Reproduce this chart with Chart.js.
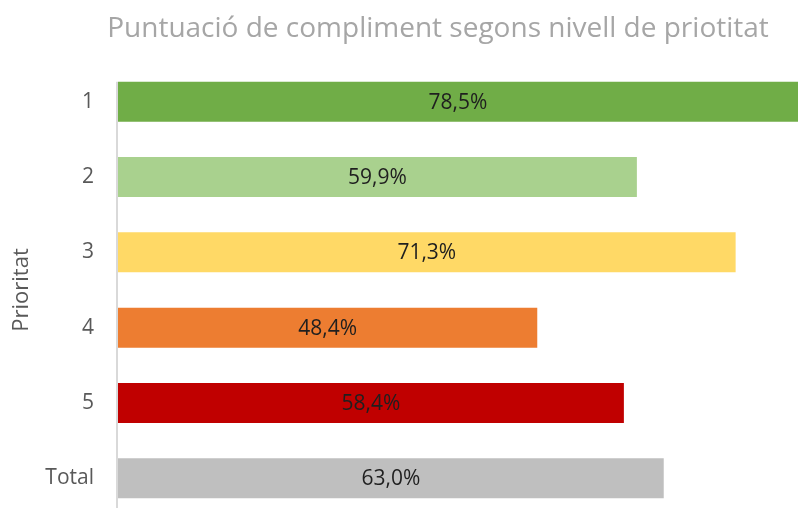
<!DOCTYPE html>
<html>
<head>
<meta charset="utf-8">
<script src="https://cdn.jsdelivr.net/npm/chart.js@4.4.1/dist/chart.umd.min.js"></script>
<style>
  html, body { margin: 0; padding: 0; background: #fff; overflow: hidden; }
  #wrap { width: 798px; height: 516px; position: relative; }
</style>
</head>
<body>
<div id="wrap"><canvas id="c"></canvas></div>
<script>
const categories = ["1", "2", "3", "4", "5", "Total"];
const scores = [78.5, 59.9, 71.3, 48.4, 58.4, 63.0];
const barColors = ["#70AD47", "#A9D18E", "#FFD966", "#ED7D31", "#C00000", "#BFBFBF"];
const chartTitle = "Puntuació de compliment segons nivell de priotitat";
const axisTitle = "Prioritat";

const FONT = "'Open Sans', 'Liberation Sans', sans-serif";

const labelPlugin = {
  id: 'barLabels',
  afterDatasetsDraw(chart) {
    const ctx = chart.ctx;
    const meta = chart.getDatasetMeta(0);
    ctx.save();
    ctx.font = "21px " + FONT;
    ctx.fillStyle = "#1F1F1F";
    ctx.textAlign = "center";
    ctx.textBaseline = "middle";
    meta.data.forEach((bar, i) => {
      const v = chart.data.datasets[0].data[i];
      const txt = v.toFixed(1).replace('.', ',') + '%';
      const x = (bar.base + bar.x) / 2;
      ctx.fillText(txt, x, bar.y + 1);
    });
    ctx.restore();
  }
};

const axisLinePlugin = {
  id: 'axisLine',
  beforeDatasetsDraw(chart) {
    const ctx = chart.ctx;
    const a = chart.chartArea;
    const first = chart.getDatasetMeta(0).data[0];
    const top = first.y - first.height / 2;
    ctx.save();
    ctx.strokeStyle = '#D9D9D9';
    ctx.lineWidth = 2;
    ctx.beginPath();
    ctx.moveTo(a.left - 1, top);
    ctx.lineTo(a.left - 1, chart.height);
    ctx.stroke();
    ctx.restore();
  }
};

const titlePlugin = {
  id: 'customTitle',
  afterDraw(chart) {
    const ctx = chart.ctx;
    const a = chart.chartArea;
    ctx.save();
    ctx.font = "28px " + FONT;
    ctx.fillStyle = "#A6A6A6";
    ctx.textAlign = "center";
    ctx.textBaseline = "alphabetic";
    ctx.fillText(chartTitle, (a.left + a.right) / 2 - 20, 37);
    ctx.restore();
  }
};

new Chart(document.getElementById('c'), {
  type: 'bar',
  data: {
    labels: categories,
    datasets: [{
      data: scores,
      backgroundColor: barColors,
      borderWidth: 0,
      categoryPercentage: 1.0,
      barPercentage: 0.531
    }]
  },
  options: {
    indexAxis: 'y',
    responsive: true,
    maintainAspectRatio: false,
    animation: false,
    layout: { padding: { top: 64, right: 0, left: 0, bottom: 0 } },
    plugins: {
      legend: { display: false },
      title: { display: false },
      tooltip: { enabled: false }
    },
    scales: {
      x: {
        display: false,
        min: 0,
        max: 78.5
      },
      y: {
        grid: { display: false, drawTicks: false },
        border: { display: false },
        ticks: {
          color: '#595959',
          font: { family: FONT, size: 21 },
          padding: 24
        },
        title: {
          display: true,
          text: axisTitle,
          color: '#595959',
          font: { family: FONT, size: 22 },
          padding: { top: 9, bottom: 11 }
        },
        afterFit(scale) {
          scale.width = 118;
          scale.paddingTop = 0;
          scale.paddingBottom = 0;
        }
      }
    }
  },
  plugins: [axisLinePlugin, labelPlugin, titlePlugin]
});
</script>
</body>
</html>
